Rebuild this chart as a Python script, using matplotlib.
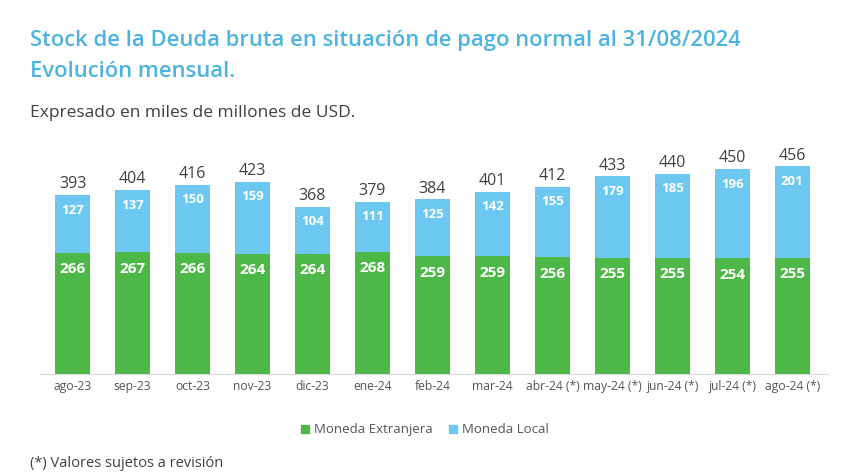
import matplotlib.pyplot as plt
from matplotlib.patches import Patch

meses = ['ago-23', 'sep-23', 'oct-23', 'nov-23', 'dic-23', 'ene-24', 'feb-24',
         'mar-24', 'abr-24 (*)', 'may-24 (*)', 'jun-24 (*)', 'jul-24 (*)', 'ago-24 (*)']
extranjera = [266, 267, 266, 264, 264, 268, 259, 259, 256, 255, 255, 254, 255]
local = [127, 137, 150, 159, 104, 111, 125, 142, 155, 179, 185, 196, 201]
totales = [393, 404, 416, 423, 368, 379, 384, 401, 412, 433, 440, 450, 456]

verde = '#4db848'
celeste = '#6cc8f0'
titulo_color = '#4db3e2'

plt.rcParams['font.family'] = ['Open Sans', 'DejaVu Sans']

fig = plt.figure(figsize=(8.5, 4.74), dpi=100)
ax = fig.add_axes([0.0465, 0.211, 0.928, 0.48])

x = list(range(len(meses)))
ax.bar(x, extranjera, width=0.58, color=verde)
ax.bar(x, local, width=0.58, bottom=extranjera, color=celeste)

for i in x:
    ax.text(i, extranjera[i] - 36, str(extranjera[i]), ha='center', va='center',
            color='white', fontsize=11, fontweight='bold')
    ax.text(i, extranjera[i] + local[i] - 33, str(local[i]), ha='center', va='center',
            color='white', fontsize=9.5, fontweight='bold')
    ax.text(i, totales[i] + 6, str(totales[i]), ha='center', va='bottom',
            color='#404040', fontsize=11.5)

ax.set_xlim(-0.55, 12.6)
ax.set_ylim(0, 500)
ax.set_xticks(x)
ax.set_xticklabels(meses, fontsize=8.7, color='#555555')
ax.tick_params(axis='x', length=0, pad=4)
ax.set_yticks([])
for s in ['top', 'right', 'left']:
    ax.spines[s].set_visible(False)
ax.spines['bottom'].set_color('#d9d9d9')

fig.text(0.035, 0.915, 'Stock de la Deuda bruta en situación de pago normal al 31/08/2024',
         color=titulo_color, fontsize=15.8, fontweight='semibold', va='center')
fig.text(0.035, 0.85, 'Evolución mensual.', color=titulo_color, fontsize=15.8,
         fontweight='semibold', va='center')
fig.text(0.035, 0.762, 'Expresado en miles de millones de USD.', color='#404040',
         fontsize=12.5, va='center')

handles = [Patch(color=verde, label='Moneda Extranjera'),
           Patch(color=celeste, label='Moneda Local')]
fig.legend(handles=handles, loc='center', bbox_to_anchor=(0.5, 0.093), ncol=2,
           frameon=False, fontsize=9.5, handlelength=0.6, handleheight=0.6,
           handletextpad=0.4, columnspacing=1.2, labelcolor='#555555')

fig.text(0.035, 0.006, '(*) Valores sujetos a revisión', color='#404040',
         fontsize=10.5, va='bottom')

fig.savefig('out.png', dpi=100)
